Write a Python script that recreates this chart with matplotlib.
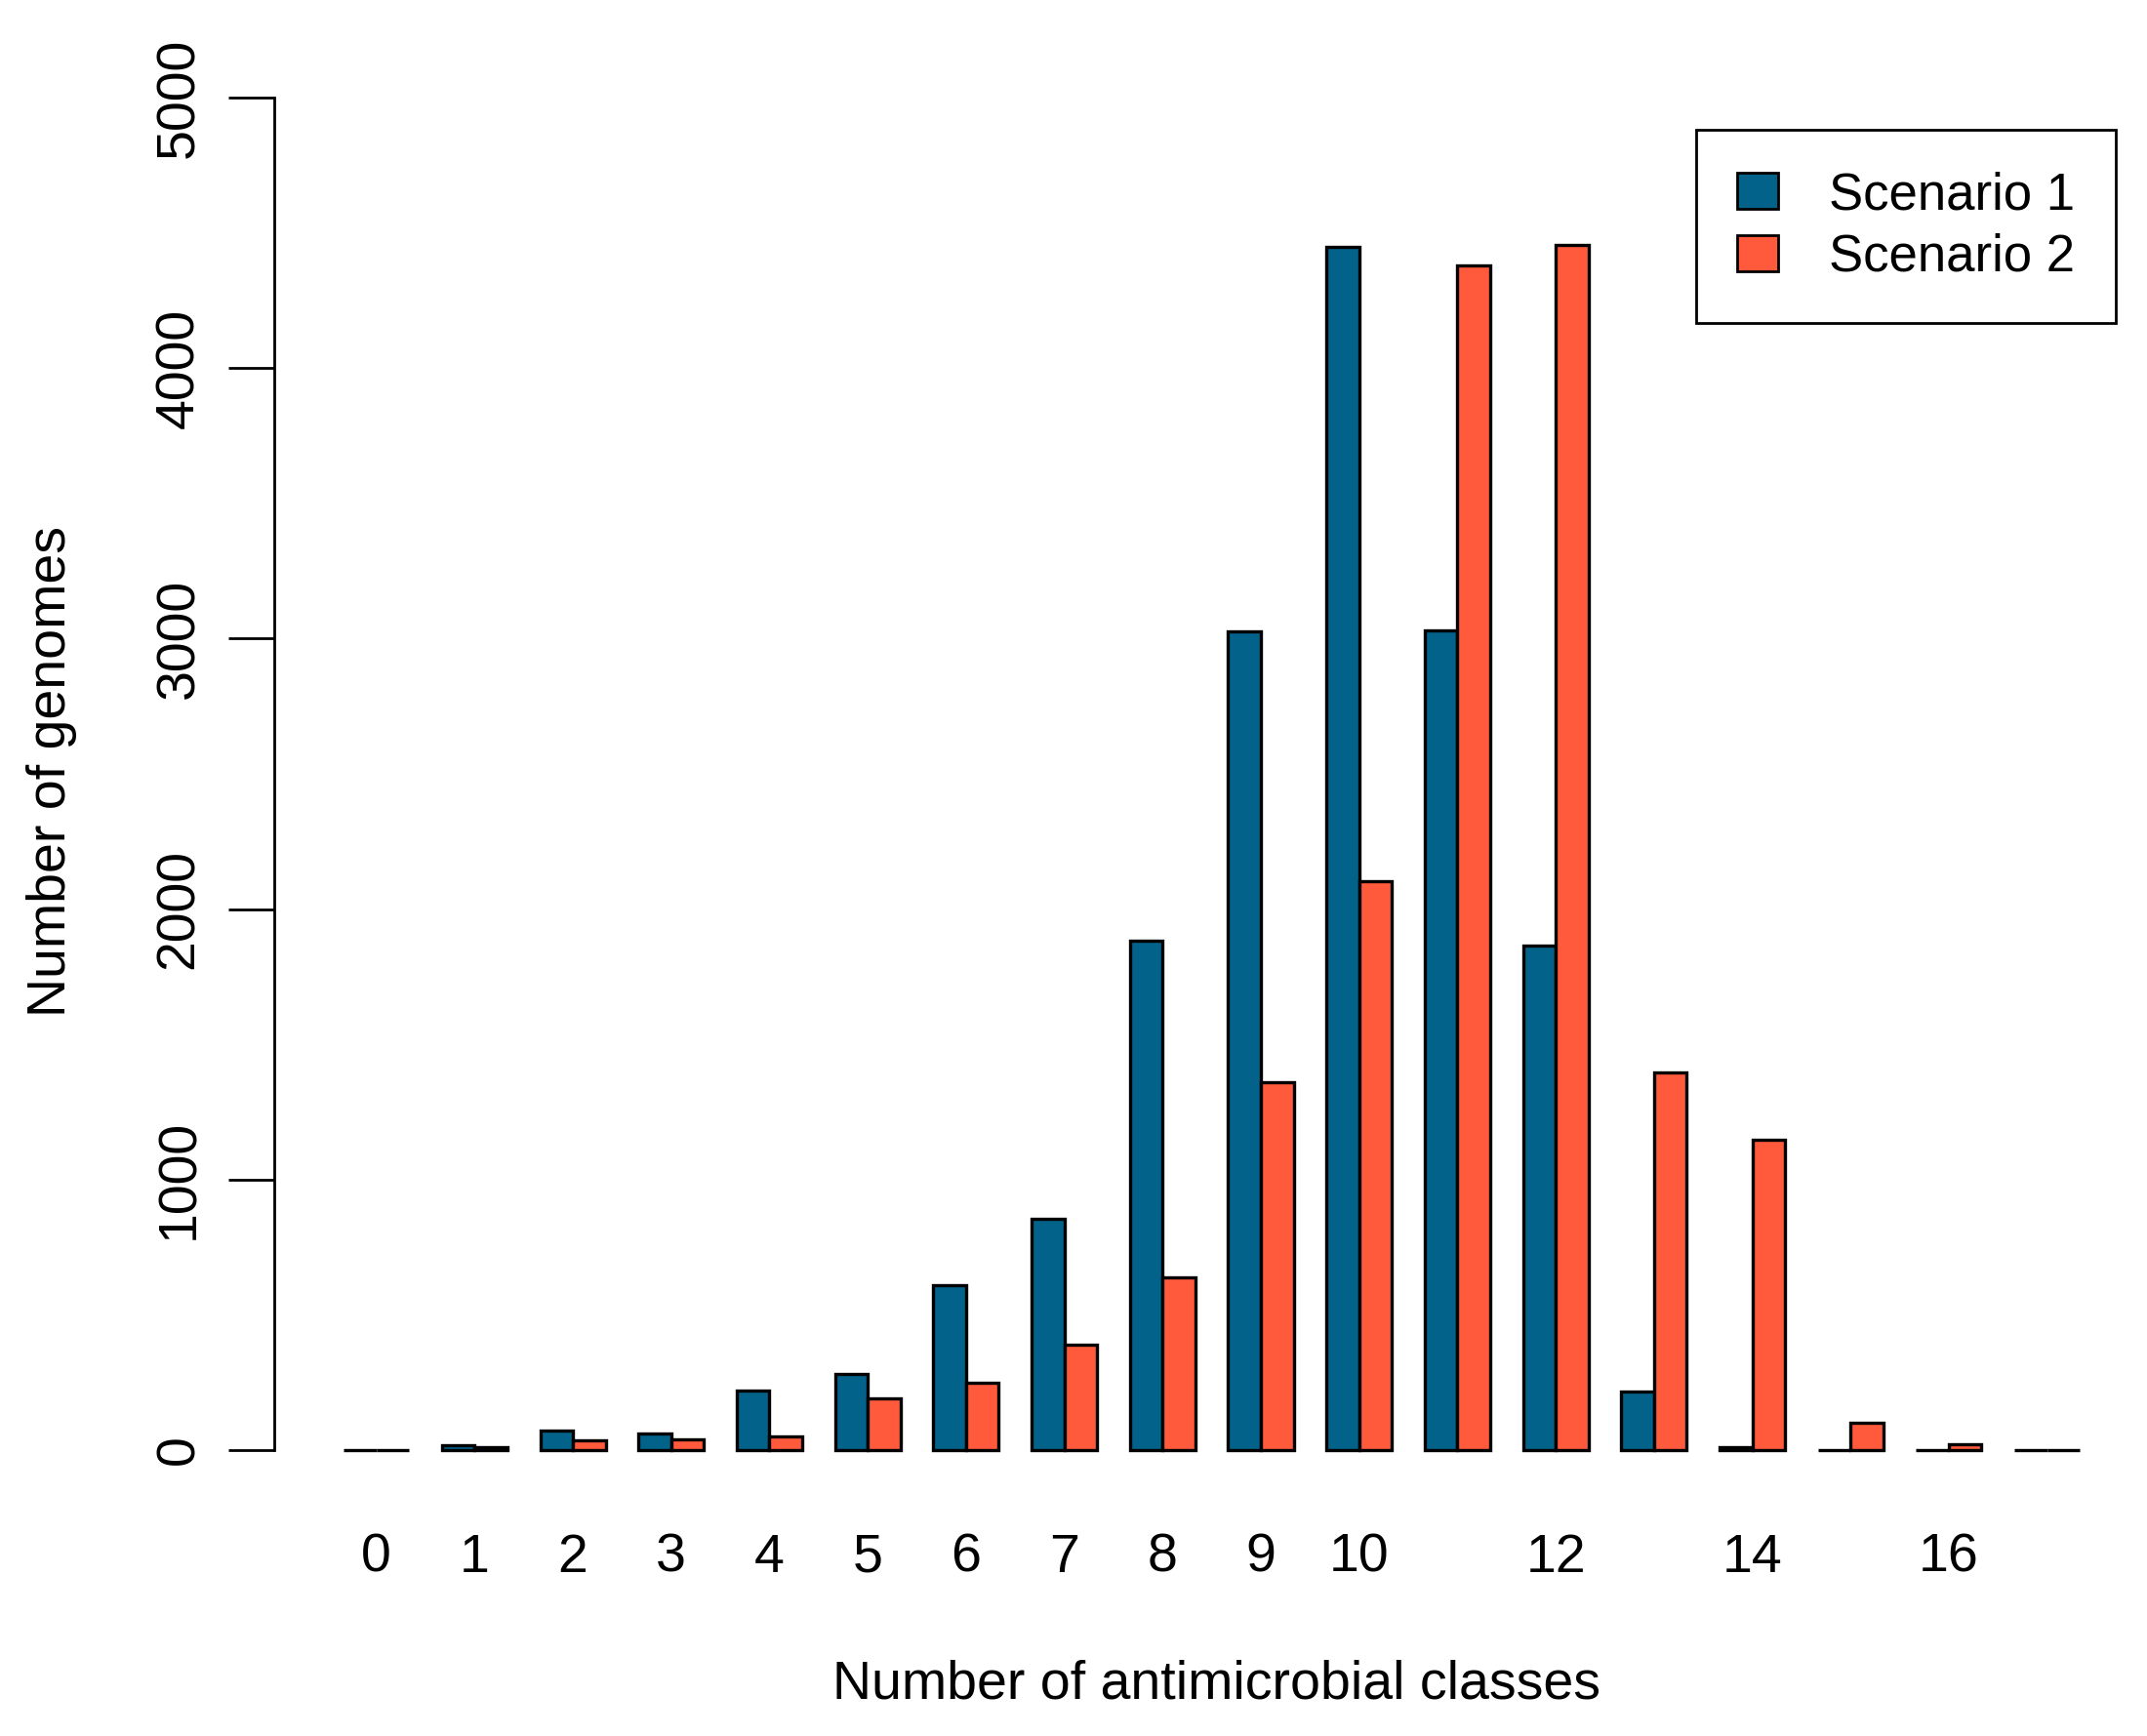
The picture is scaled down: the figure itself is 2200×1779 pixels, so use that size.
import matplotlib.pyplot as plt
import matplotlib.patches as mpatches
import numpy as np

plt.rcParams['font.family'] = ['Liberation Sans', 'DejaVu Sans']

classes = list(range(18))
scenario1 = [0, 20, 73, 60, 219, 280, 610, 857, 1883, 3028, 4449, 3031, 1864, 216, 10, 0, 0, 0]
scenario2 = [0, 10, 36, 41, 52, 190, 248, 391, 640, 1361, 2104, 4381, 4457, 1395, 1146, 103, 22, 0]
tick_classes = [0, 1, 2, 3, 4, 5, 6, 7, 8, 9, 10, 12, 14, 16]
yticks = [0, 1000, 2000, 3000, 4000, 5000]

blue = '#03628A'
red = '#FF5A3C'

fig = plt.figure(figsize=(22, 17.79), dpi=100)
ax = fig.add_axes([0.1277, 0.1335, 0.8723, 0.8414])

# R barplot(beside=TRUE) layout: one bar gap between groups
left = np.array(classes) * 3 + 1
ax.bar(left, scenario1, width=1, align='edge', color=blue, edgecolor='black', linewidth=2.4)
ax.bar(left + 1, scenario2, width=1, align='edge', color=red, edgecolor='black', linewidth=2.4)

ax.set_xlim(-1.12, 56.05)
ax.set_ylim(-200, 5200)

ax.set_xticks(np.array(tick_classes) * 3 + 2)
ax.set_xticklabels([str(c) for c in tick_classes])
ax.set_yticks(yticks)
ax.set_yticklabels([str(v) for v in yticks], rotation=90, va='center')
ax.tick_params(axis='x', length=0, pad=21, labelsize=40)
ax.tick_params(axis='y', length=34, width=2, pad=17, labelsize=40)

for s in ['top', 'right', 'bottom']:
    ax.spines[s].set_visible(False)
ax.spines['left'].set_bounds(0, 5000)
ax.spines['left'].set_linewidth(2)

fig.text(0.5665, 0.0214, 'Number of antimicrobial classes', ha='center', va='baseline', fontsize=40)
fig.text(0.024, 0.5554, 'Number of genomes', ha='center', va='center', rotation=90, fontsize=40)

handles = [mpatches.Patch(facecolor=blue, edgecolor='black', linewidth=2),
           mpatches.Patch(facecolor=red, edgecolor='black', linewidth=2)]
leg = fig.legend(handles, ['Scenario 1', 'Scenario 2'], loc='upper right',
                 bbox_to_anchor=(0.98545, 0.92524), fontsize=38, fancybox=False,
                 edgecolor='black', framealpha=1, handlelength=0.8, handleheight=0.7,
                 handletextpad=0.97, borderpad=0.8, labelspacing=0.26, borderaxespad=0)
leg.get_frame().set_linewidth(2)

fig.savefig('out.png', dpi=100)
